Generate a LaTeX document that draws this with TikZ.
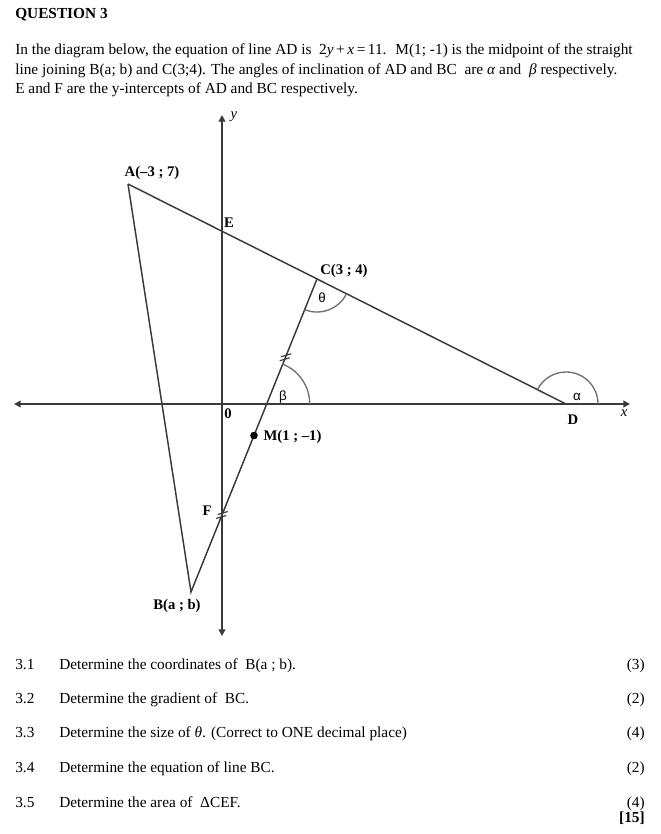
\documentclass[tikz,border=0pt]{standalone}
\usepackage{fontspec}
\setmainfont{Liberation Serif}
\newfontfamily\greekfont{Liberation Sans}
\usepackage{tikz}
\usetikzlibrary{arrows.meta,calc}
\definecolor{ink}{HTML}{3A3A3A}
\definecolor{arcgray}{HTML}{707070}

\begin{document}
\begin{tikzpicture}[x=0.75pt, y=-0.75pt,
  line/.style={draw=ink, line width=1.1pt},
  axis/.style={draw=ink, line width=1.3pt, {Triangle[length=5pt,width=5pt]}-{Triangle[length=5pt,width=5pt]}},
  anglearc/.style={draw=arcgray, line width=1pt},
  tickmark/.style={draw=ink, line width=0.9pt},
  ptlabel/.style={font=\fontsize{11}{13}\selectfont\bfseries, inner sep=1pt},
  axislabel/.style={font=\fontsize{11}{13}\selectfont\itshape, inner sep=1pt},
  greeklabel/.style={font=\fontsize{10}{12}\selectfont\greekfont, inner sep=0pt},
  txt/.style={font=\fontsize{11.5}{13.5}\selectfont, inner sep=0pt, anchor=base west},
  marks/.style={font=\fontsize{11.5}{13.5}\selectfont, inner sep=0pt, anchor=base east}
]
\useasboundingbox (0,0) rectangle (660,834);

% question text
\node[txt, font=\fontsize{11.5}{13.5}\selectfont\bfseries] (title) at (15,19) {QUESTION 3};
\node[txt] (para1) at (15,55) {In the diagram below, the equation of line AD is \ 2\textit{y}\,+\,\textit{x}\,=\,11. \ M(1; -1) is the midpoint of the straight};
\node[txt] (para2) at (15,75) {line joining B(a; b) and C(3;4). The angles of inclination of AD and BC \ are \textit{α} and \ \textit{β} respectively.};
\node[txt] (para3) at (15,94) {E and F are the y-intercepts of AD and BC respectively.};

% points
\coordinate (O) at (222,404);
\coordinate (A) at (128,184);
\coordinate (D) at (566,404);
\coordinate (C) at (317,279);
\coordinate (B) at (191,592);
\coordinate (M) at ($(B)!0.5!(C)$);
\coordinate (E) at (222,231.2);
\coordinate (F) at (222,515);
\coordinate (P) at (266.7,404);
\coordinate (T) at ($(C)!0.5!(M)$);
\coordinate (xl) at (14,404);
\coordinate (xr) at (630,404);
\coordinate (yt) at (222,115);
\coordinate (yb) at (222,636);

% axes
\draw[axis] (xl) -- (xr);
\draw[axis] (yb) -- (yt);

% lines
\draw[line] (A) -- (D);
\draw[line] (A) -- (B) -- (C);

% angles
\draw[anglearc] ([shift={(26.66:33)}]C) arc[start angle=26.66, end angle=111.93, radius=33];
\draw[anglearc] ([shift={(0:43)}]P) arc[start angle=0, end angle=-68.1, radius=43];
\draw[anglearc] ([shift={(0:32)}]D) arc[start angle=0, end angle=-153.34, radius=32];

% equal lengths
\foreach \p in {T,F}
  \foreach \s in {-1,1}
    \draw[tickmark] ($(\p)+({\s*0.8-5},{-\s*2+1.5})$) -- ++(10,-3);

\fill[black] (M) circle[radius=3.8];

% labels
\node[ptlabel] (lA) at (152,173) {A(–3 ; 7)};
\node[ptlabel] (lE) at (229,223) {E};
\node[ptlabel] (lC) at (344,271) {C(3 ; 4)};
\node[ptlabel] (lO) at (228,414) {0};
\node[ptlabel, anchor=west] (lM) at (262,437) {M(1 ; –1)};
\node[ptlabel] (lD) at (573,420) {D};
\node[ptlabel] (lF) at (207,511) {F};
\node[ptlabel] (lB) at (177,606) {B(a ; b)};
\node[axislabel] (lx) at (624,413) {x};
\node[axislabel] (ly) at (234,117) {y};
\node[greeklabel] (ltheta) at (322,298) {θ};
\node[greeklabel] (lbeta) at (283,397) {β};
\node[greeklabel] (lalpha) at (577,397) {α};

% sub-questions
\node[txt] (n1) at (15,669) {3.1};
\node[txt] (q1) at (59,669) {Determine the coordinates of \ B(a ; b).};
\node[marks] (m1) at (645,669) {(3)};
\node[txt] (n2) at (15,703) {3.2};
\node[txt] (q2) at (59,703) {Determine the gradient of \ BC.};
\node[marks] (m2) at (645,703) {(2)};
\node[txt] (n3) at (15,737) {3.3};
\node[txt] (q3) at (59,737) {Determine the size of \textit{θ}. (Correct to ONE decimal place)};
\node[marks] (m3) at (645,737) {(4)};
\node[txt] (n4) at (15,772) {3.4};
\node[txt] (q4) at (59,772) {Determine the equation of line BC.};
\node[marks] (m4) at (645,772) {(2)};
\node[txt] (n5) at (15,807) {3.5};
\node[txt] (q5) at (59,807) {Determine the area of \ ΔCEF.};
\node[marks] (m5) at (645,807) {(4)};
\node[marks, font=\fontsize{11.5}{13.5}\selectfont\bfseries] (total) at (645,822) {[15]};
\end{tikzpicture}
\end{document}
